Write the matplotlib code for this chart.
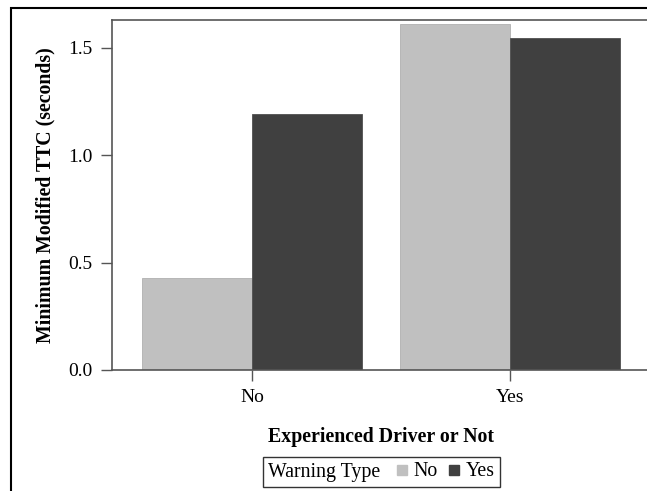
import matplotlib
matplotlib.use("Agg")
import matplotlib.pyplot as plt
from matplotlib.lines import Line2D
from matplotlib.patches import Rectangle
from matplotlib.offsetbox import HPacker
import numpy as np

categories = ["No", "Yes"]
warning_types = ["No", "Yes"]
values_warning_no = [0.43, 1.61]
values_warning_yes = [1.19, 1.548]
colors = ["#c0c0c0", "#404040"]

plt.rcParams['font.family'] = ['Liberation Serif', 'DejaVu Serif']

W, H = 647, 491
fig = plt.figure(figsize=(W / 100, H / 100), dpi=100)
ax = fig.add_axes([112 / W, (H - 370) / H, (650 - 112) / W, (370 - 20) / H])

x = np.arange(len(categories))
bw = 0.426
ax.bar(x - bw / 2, values_warning_no, width=bw, color=colors[0], edgecolor="#b0b0b0", linewidth=0.6)
ax.bar(x + bw / 2, values_warning_yes, width=bw, color=colors[1], edgecolor="#505050", linewidth=0.6)

ax.set_xlim(-0.543, 1.543)
ax.set_ylim(0, 1.63)
ax.set_xticks(x)
ax.set_xticklabels(categories)
ax.set_yticks([0.0, 0.5, 1.0, 1.5])
ax.set_yticklabels(["0.0", "0.5", "1.0", "1.5"])
ax.tick_params(axis="both", labelsize=14, length=8, width=1, color="#555555", pad=6)
for s in ax.spines.values():
    s.set_color("#555555")
    s.set_linewidth(1.2)

ax.set_ylabel("Minimum Modified TTC (seconds)", fontsize=14.3, fontweight="bold", labelpad=9)
ax.set_xlabel("Experienced Driver or Not", fontsize=14.3, fontweight="bold", labelpad=15)

handles = [
    Line2D([], [], linestyle="none", marker="s", markersize=7, color=colors[0], label=warning_types[0]),
    Line2D([], [], linestyle="none", marker="s", markersize=7, color=colors[1], label=warning_types[1]),
]
fs = 14.3
leg = fig.legend(handles=handles, loc="center", bbox_to_anchor=(381.5 / W, (H - 472) / H),
                 ncol=2, fontsize=fs, title="Warning Type", title_fontsize=fs,
                 frameon=True, fancybox=False, edgecolor="black",
                 handlelength=0.6, handletextpad=0.3, columnspacing=0.5, borderpad=0.15,
                 borderaxespad=0)
leg.get_frame().set_linewidth(1.0)
# put the title to the left of the entries
box = HPacker(pad=0.3 * fs, sep=0.75 * fs, align="baseline",
              children=[leg._legend_title_box, leg._legend_handle_box])
box.set_figure(fig)
leg._legend_box = box
box.set_offset(leg._findoffset)

fig.patches.append(Rectangle((11 / W, -0.1), 2.0, (H - 8) / H + 0.1, transform=fig.transFigure,
                             fill=False, edgecolor="black", linewidth=1.5))

fig.savefig("out.png", dpi=100)
